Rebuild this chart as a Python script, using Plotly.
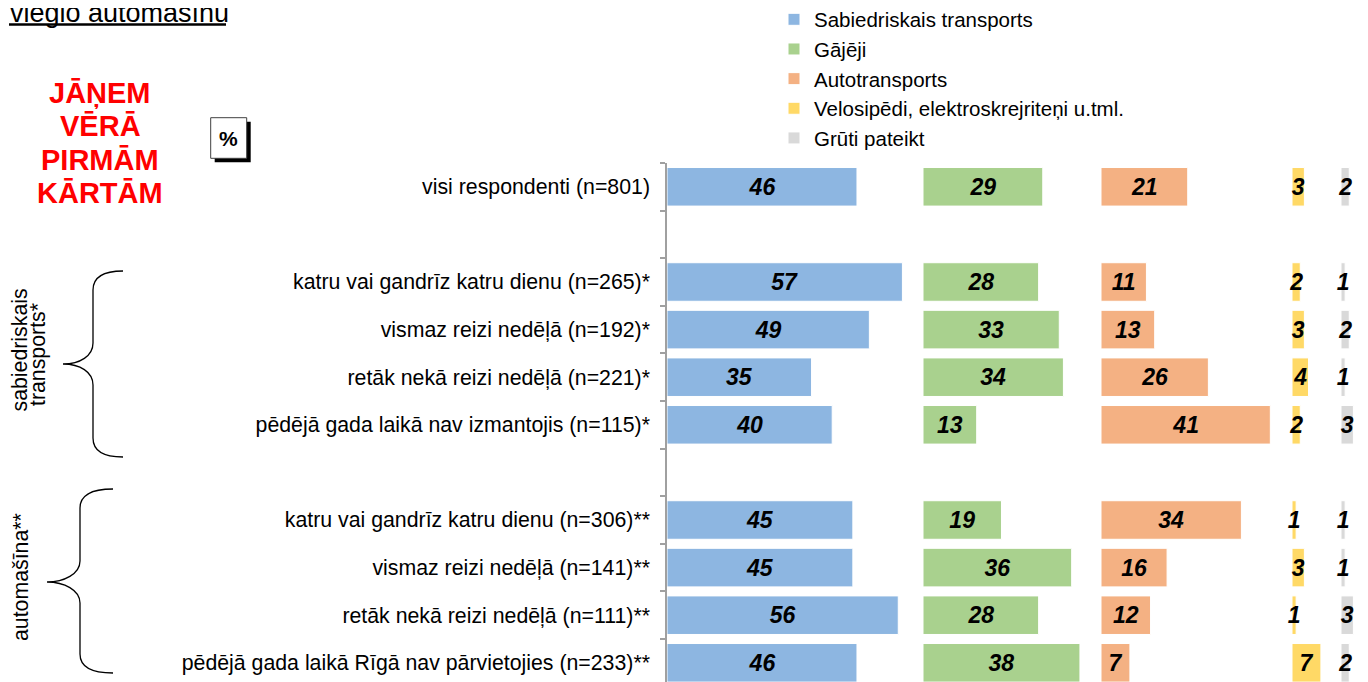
import plotly.graph_objects as go

# ---------------- data ----------------
categories = [
    "visi respondenti (n=801)",
    " ",
    "katru vai gandrīz katru dienu (n=265)*",
    "vismaz reizi nedēļā (n=192)*",
    "retāk nekā reizi nedēļā (n=221)*",
    "pēdējā gada laikā nav izmantojis (n=115)*",
    "  ",
    "katru vai gandrīz katru dienu (n=306)**",
    "vismaz reizi nedēļā (n=141)**",
    "retāk nekā reizi nedēļā (n=111)**",
    "pēdējā gada laikā Rīgā nav pārvietojies (n=233)**",
]
series_names = [
    "Sabiedriskais transports",
    "Gājēji",
    "Autotransports",
    "Velosipēdi, elektroskrejriteņi u.tml.",
    "Grūti pateikt",
]
sabiedriskais = [46, None, 57, 49, 35, 40, None, 45, 45, 56, 46]
gajeji = [29, None, 28, 33, 34, 13, None, 19, 36, 28, 38]
autotransports = [21, None, 11, 13, 26, 41, None, 34, 16, 12, 7]
velosipedi = [3, None, 2, 3, 4, 2, None, 1, 3, 1, 7]
gruti = [2, None, 1, 2, 1, 3, None, 1, 1, 3, 2]
series_values = [sabiedriskais, gajeji, autotransports, velosipedi, gruti]

title_text = "vieglo automašīnu"
note_lines = ["JĀŅEM", "VĒRĀ", "PIRMĀM", "KĀRTĀM"]
group1_lines = ["sabiedriskais", "transports*"]
group2_label = "automašīna**"
unit_label = "%"

# ---------------- style / layout ----------------
colors = ["#8DB6E1", "#A9D18E", "#F4B183", "#FFD966", "#D9D9D9"]
OFF = 8                      # page offset of the figure inside the browser
W, H = 1360, 674             # figure size (window minus page offset)
REF_BOTTOM = 682
T = 163 - OFF
PH = H - T
PX_PER_UNIT = 4.13
ROW_PX = 47.6
panel_starts = [667, 923, 1101, 1292, 1341]
panel_ends = [913, 1093, 1285, 1336, 1368]
FONT = "Liberation Sans, Arial, sans-serif"


def fx(x):
    return (x - OFF) / W


def fy(y):
    return (REF_BOTTOM - y) / PH


fig = go.Figure()
for i, (name, vals, col) in enumerate(zip(series_names, series_values, colors)):
    axis_suffix = "" if i == 0 else str(i + 1)
    fig.add_trace(go.Bar(
        name=name,
        y=categories,
        x=vals,
        orientation="h",
        marker=dict(color=col, line=dict(color="white", width=1)),
        width=0.81,
        texttemplate="%{x}",
        textposition="inside",
        insidetextanchor="middle",
        textangle=0,
        textfont=dict(family=FONT, size=23, color="black", weight="bold", style="italic"),
        cliponaxis=False,
        xaxis="x" + axis_suffix,
        yaxis="y",
        hoverinfo="skip",
    ))

layout_axes = {}
for i, (s, e) in enumerate(zip(panel_starts, panel_ends)):
    key = "xaxis" if i == 0 else "xaxis%d" % (i + 1)
    layout_axes[key] = dict(
        domain=[max(0, fx(s)), min(1, fx(e))],
        range=[0, (e - s) / PX_PER_UNIT],
        visible=False,
        anchor="y",
        fixedrange=True,
    )

span_rows = PH / ROW_PX
fig.update_layout(
    **layout_axes,
    yaxis=dict(
        categoryorder="array",
        categoryarray=categories,
        range=[-0.5 + span_rows, -0.5],
        showline=True,
        linecolor="#A0A0A0",
        linewidth=1.5,
        ticks="outside",
        tickson="boundaries",
        ticklen=5,
        tickcolor="#A0A0A0",
        tickwidth=1.5,
        tickfont=dict(family=FONT, size=21.3, color="black"),
        ticklabelstandoff=11,
        showgrid=False,
        zeroline=False,
        anchor="x",
        fixedrange=True,
    ),
    width=W,
    height=H,
    margin=dict(l=0, r=0, t=T, b=0, autoexpand=False),
    paper_bgcolor="white",
    plot_bgcolor="white",
    barmode="overlay",
    showlegend=True,
    legend=dict(
        x=fx(774),
        xanchor="left",
        y=fy(-0.5),
        yanchor="top",
        orientation="v",
        font=dict(family=FONT, size=20.5, color="black"),
        bgcolor="rgba(0,0,0,0)",
        traceorder="normal",
    ),
    uniformtext=dict(minsize=23, mode="show"),
    font=dict(family=FONT, color="black"),
)

annotations = []
# title
annotations.append(dict(
    x=fx(8), y=fy(13), xref="paper", yref="paper", xanchor="left", yanchor="middle",
    text=title_text, showarrow=False, font=dict(family=FONT, size=27, color="black"),
))
# red note
for i, line in enumerate(note_lines):
    annotations.append(dict(
        x=fx(100), y=fy(93 + i * 33.4), xref="paper", yref="paper",
        xanchor="center", yanchor="middle", text="<b>%s</b>" % line, showarrow=False,
        font=dict(family=FONT, size=29, color="#FF0000"),
    ))
# % box label
annotations.append(dict(
    x=fx(228.7), y=fy(138), xref="paper", yref="paper", xanchor="center", yanchor="middle",
    text="<b>%s</b>" % unit_label, showarrow=False, font=dict(family=FONT, size=21, color="black"),
))
# group labels (rotated)
for line, cx, cy in zip(group1_lines, [19.5, 38], [350, 355]):
    annotations.append(dict(
        x=fx(cx), y=fy(cy), xref="paper", yref="paper", xanchor="center", yanchor="middle",
        text=line, textangle=-90, showarrow=False,
        font=dict(family=FONT, size=21.3, color="black"),
    ))
annotations.append(dict(
    x=fx(21), y=fy(577), xref="paper", yref="paper", xanchor="center", yanchor="middle",
    text=group2_label, textangle=-90, showarrow=False,
    font=dict(family=FONT, size=21.3, color="black"),
))
fig.update_layout(annotations=annotations)


def P(x, y):
    return "%.5f,%.5f" % (fx(x), fy(y))


def brace(tip_x, line_x, end_x, top, mid, bottom):
    r1 = 19
    r2 = 21
    return (
        "M" + P(end_x, top)
        + " C" + P(line_x + 10, top) + " " + P(line_x, top + 7) + " " + P(line_x, top + r1)
        + " L" + P(line_x, mid - r2)
        + " C" + P(line_x, mid - 8) + " " + P(tip_x + 17, mid) + " " + P(tip_x, mid)
        + " C" + P(tip_x + 17, mid) + " " + P(line_x, mid + 8) + " " + P(line_x, mid + r2)
        + " L" + P(line_x, bottom - r1)
        + " C" + P(line_x, bottom - 7) + " " + P(line_x + 10, bottom) + " " + P(end_x, bottom)
    )


shapes = [
    # title underline
    dict(type="line", xref="paper", yref="paper", x0=fx(9), x1=fx(226), y0=fy(24.5), y1=fy(24.5),
         line=dict(color="black", width=2.5)),
    # % box shadow and box
    dict(type="rect", xref="paper", yref="paper", x0=fx(214.7), x1=fx(250.7), y0=fy(162.3), y1=fy(121.7),
         fillcolor="black", line=dict(width=0)),
    dict(type="rect", xref="paper", yref="paper", x0=fx(210.7), x1=fx(246.7), y0=fy(158.3), y1=fy(117.7),
         fillcolor="white", line=dict(color="#404040", width=1)),
    dict(type="path", xref="paper", yref="paper", path=brace(63, 93, 123, 271, 364, 457),
         line=dict(color="black", width=1.3)),
    dict(type="path", xref="paper", yref="paper", path=brace(47, 80, 113, 489, 582, 673),
         line=dict(color="black", width=1.3)),
]
fig.update_layout(shapes=shapes)

fig.write_html("out.html")
